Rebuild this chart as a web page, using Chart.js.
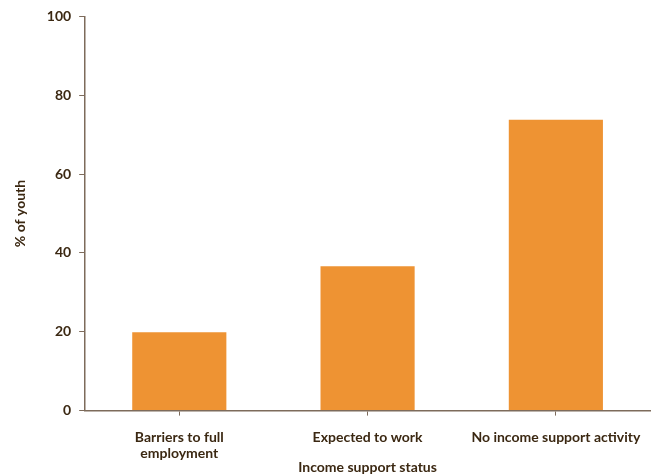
<!DOCTYPE html>
<html lang="en">
<head>
  <meta charset="UTF-8">
  <title>Income support status</title>
  <script src="https://cdn.jsdelivr.net/npm/chart.js"></script>
  <style>
    html, body { margin: 0; padding: 0; background: #fff; }
    #wrap { width: 656px; height: 476px; }
  </style>
</head>
<body>
  <div id="wrap"><canvas id="chart" width="656" height="476"></canvas></div>

  <script>
    const categories = [['Barriers to full', 'employment'], 'Expected to work', 'No income support activity'];
    const youthPct = [19.9, 36.6, 73.8];
    const yTicks = [0, 20, 40, 60, 80, 100];

    const textColor = '#3b2812';
    const axisColor = '#7d6b5b';
    const font = { family: 'Lato, "Open Sans", sans-serif', size: 14, weight: 'bold', lineHeight: 1.2 };

    new Chart(document.getElementById('chart'), {
      type: 'bar',
      data: {
        labels: categories,
        datasets: [{
          label: '% of youth',
          data: youthPct,
          backgroundColor: '#ee9333',
          barPercentage: 0.5,
          categoryPercentage: 1.0
        }]
      },
      options: {
        responsive: false,
        animation: false,
        layout: { padding: { top: 10, right: 6, left: 8, bottom: 0 } },
        plugins: { legend: { display: false }, tooltip: { enabled: false } },
        scales: {
          x: {
            grid: { offset: false, drawOnChartArea: false, drawTicks: true, tickLength: 5, color: axisColor },
            border: { color: axisColor, width: 1.5 },
            ticks: { color: textColor, font: font, padding: 13, maxRotation: 0 },
            title: { display: true, text: 'Income support status', color: textColor, font: font, padding: { top: -16, bottom: 0 } }
          },
          y: {
            min: 0,
            max: 100,
            afterBuildTicks: axis => { axis.ticks = yTicks.map(v => ({ value: v })); },
            grid: { drawOnChartArea: false, drawTicks: true, tickLength: 6, color: axisColor },
            border: { color: axisColor, width: 1.5 },
            ticks: { color: textColor, font: font, padding: 8 },
            title: { display: true, text: '% of youth', color: textColor, font: font, padding: { bottom: 10 } }
          }
        }
      }
    });
  </script>
</body>
</html>
